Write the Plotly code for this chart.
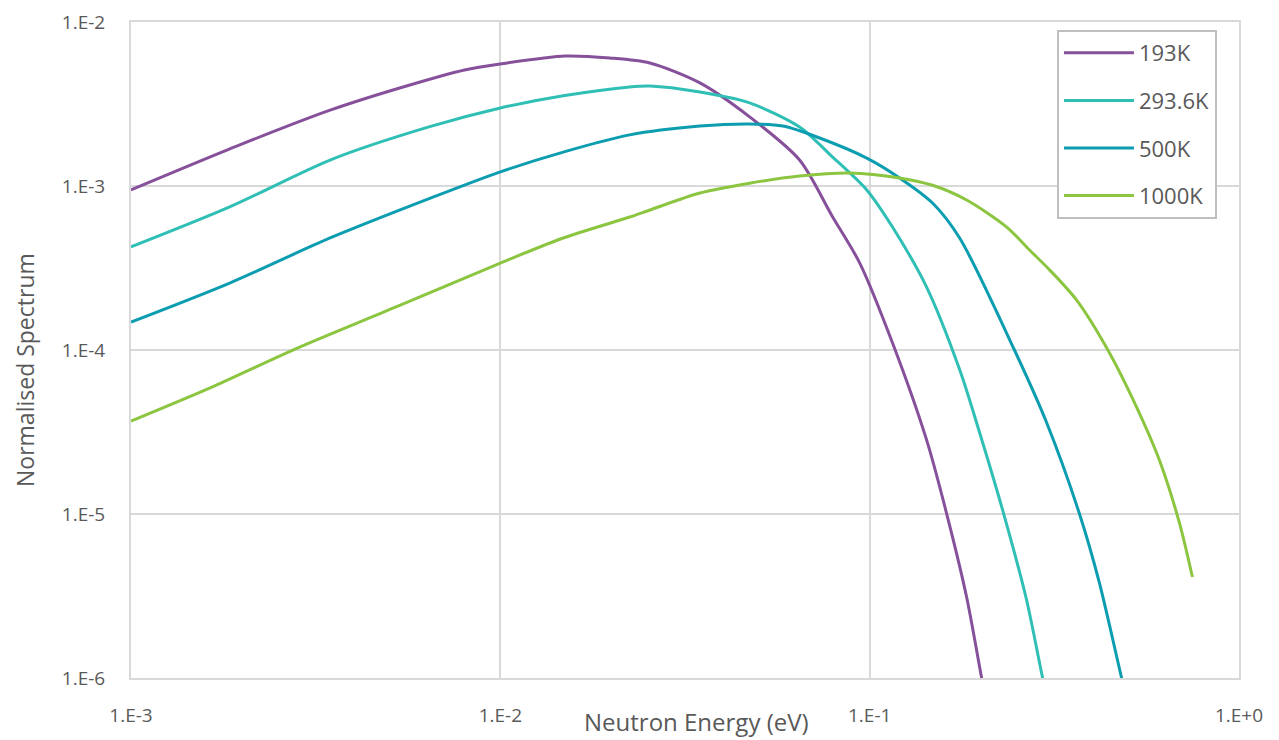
import plotly.graph_objects as go

# Data (Neutron Energy in eV, normalised spectrum)
e_193 = [1.0e-3, 1.97e-3, 3.46e-3, 5.34e-3, 8.0e-3, 1.0e-2, 1.5e-2, 1.98e-2, 2.54e-2, 3.47e-2,
         4.73e-2, 6.46e-2, 7.94e-2, 9.4e-2, 0.1154, 0.1426, 0.1615, 0.183, 0.201, 0.21]
s_193 = [9.46e-4, 1.78e-3, 2.9e-3, 3.96e-3, 5.1e-3, 5.55e-3, 6.2e-3, 6.03e-3, 5.62e-3, 4.25e-3,
         2.64e-3, 1.44e-3, 6.47e-4, 3.39e-4, 1.1e-4, 2.83e-5, 1.01e-5, 3.12e-6, 1.0e-6, 6.0e-7]

e_294 = [1.0e-3, 1.85e-3, 3.46e-3, 6.44e-3, 1.0e-2, 1.48e-2, 2.24e-2, 2.54e-2, 3.47e-2, 4.73e-2,
         6.46e-2, 7.94e-2, 9.82e-2, 0.1154, 0.1426, 0.1754, 0.1986, 0.229, 0.266, 0.294, 0.305]
s_294 = [4.25e-4, 7.45e-4, 1.44e-3, 2.3e-3, 2.99e-3, 3.55e-3, 4.02e-3, 4.07e-3, 3.74e-3, 3.21e-3,
         2.29e-3, 1.50e-3, 9.46e-4, 5.6e-4, 2.42e-4, 7.55e-5, 3.12e-5, 1.06e-5, 2.99e-6, 1.0e-6, 7.0e-7]

e_500 = [1.0e-3, 1.85e-3, 3.46e-3, 6.44e-3, 1.0e-2, 1.48e-2, 2.24e-2, 3.47e-2, 4.73e-2,
         5.82e-2, 7.2e-2, 9.82e-2, 0.1205, 0.148, 0.1754, 0.2466, 0.30, 0.37, 0.419, 0.481, 0.50]
s_500 = [1.48e-4, 2.56e-4, 4.82e-4, 8.4e-4, 1.22e-3, 1.61e-3, 2.05e-3, 2.32e-3, 2.39e-3,
         2.32e-3, 1.99e-3, 1.48e-3, 1.12e-3, 7.87e-4, 4.8e-4, 1.0e-4, 3.7e-5, 1.0e-5, 3.79e-6, 1.0e-6, 7.0e-7]

e_1000 = [1.0e-3, 1.68e-3, 2.83e-3, 5.28e-3, 1.0e-2, 1.48e-2, 2.24e-2, 2.54e-2, 3.47e-2, 4.73e-2,
          6.46e-2, 8.83e-2, 0.1205, 0.148, 0.183, 0.235, 0.271, 0.307, 0.363, 0.446, 0.528, 0.609,
          0.690, 0.748]
s_1000 = [3.69e-5, 6.03e-5, 1.03e-4, 1.85e-4, 3.39e-4, 4.82e-4, 6.47e-4, 7.14e-4, 9.06e-4, 1.04e-3,
          1.15e-3, 1.2e-3, 1.12e-3, 1.01e-3, 8.22e-4, 5.62e-4, 4.07e-4, 3.08e-4, 2.02e-4, 9.6e-5, 4.49e-5, 2.13e-5,
          8.8e-6, 4.13e-6]

names = ["193K", "293.6K", "500K", "1000K"]
colors = ["#86509B", "#30BFB5", "#0C9DB0", "#8CC540"]

x_tickvals = [1e-3, 1e-2, 1e-1, 1e0]
x_ticktext = ["1.E-3", "1.E-2", "1.E-1", "1.E+0"]
y_tickvals = [1e-6, 1e-5, 1e-4, 1e-3, 1e-2]
y_ticktext = ["1.E-6", "1.E-5", "1.E-4", "1.E-3", "1.E-2"]

series = [(e_193, s_193), (e_294, s_294), (e_500, s_500), (e_1000, s_1000)]

fig = go.Figure()
for (xs, ys), name, col in zip(series, names, colors):
    fig.add_trace(go.Scatter(
        x=xs, y=ys, mode="lines", name=name, legendgroup=name,
        line=dict(color=col, width=3, shape="spline", smoothing=0.8),
    ))

font_family = "Open Sans, Noto Sans, sans-serif"
grid_col = "#D9D9D9"
text_col = "#595959"

# The page body adds an 8px offset, so the figure is 8px smaller with 8px less left/top margin.
fig.update_layout(
    width=1271, height=732,
    paper_bgcolor="white", plot_bgcolor="white",
    margin=dict(l=123, r=40, t=14, b=62, autoexpand=False),
    font=dict(family=font_family, color=text_col, size=19),
    showlegend=True,
    legend=dict(
        x=0.8357, y=0.9878, xanchor="left", yanchor="top",
        bgcolor="white", bordercolor="#BFBFBF", borderwidth=2,
        font=dict(size=22, color=text_col),
        tracegroupgap=16,
        itemwidth=70,
    ),
    xaxis=dict(
        type="log", range=[-3, 0], automargin=False,
        tickvals=x_tickvals, ticktext=x_ticktext,
        showgrid=True, gridcolor=grid_col, gridwidth=2,
        showline=True, linecolor=grid_col, linewidth=2, mirror=True,
        ticks="", ticklabelstandoff=19,
        tickfont=dict(size=19, color=text_col),
        zeroline=False,
    ),
    yaxis=dict(
        type="log", range=[-6, -2], automargin=False,
        tickvals=y_tickvals, ticktext=y_ticktext,
        showgrid=True, gridcolor=grid_col, gridwidth=2,
        showline=True, linecolor=grid_col, linewidth=2, mirror=True,
        ticks="", ticklabelstandoff=20,
        tickfont=dict(size=19, color=text_col),
        zeroline=False,
    ),
    annotations=[
        dict(text="Neutron Energy (eV)", xref="paper", yref="paper", x=0.51, y=-0.067,
             xanchor="center", yanchor="middle", showarrow=False,
             font=dict(size=24, color=text_col)),
        dict(text="Normalised Spectrum", xref="paper", yref="paper", x=-0.0957, y=0.4695,
             xanchor="center", yanchor="middle", textangle=-90, showarrow=False,
             font=dict(size=23, color=text_col)),
    ],
)

fig.write_html("out.html")
